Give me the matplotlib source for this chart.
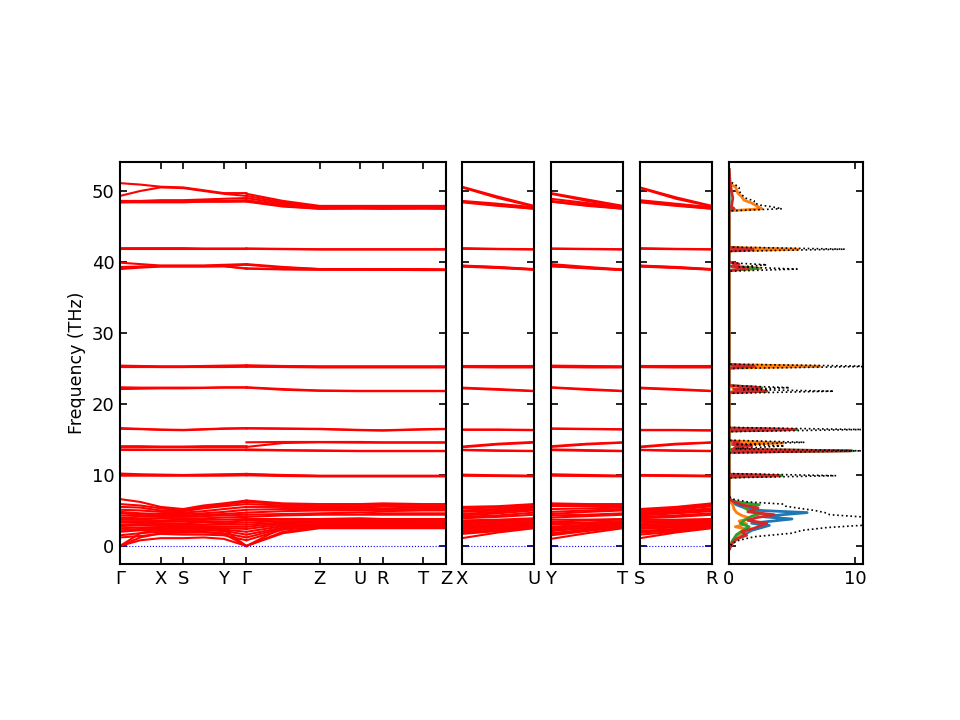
import numpy as np
import matplotlib
matplotlib.use('Agg')
import matplotlib.pyplot as plt

# reciprocal lattice lengths of the orthorhombic cell (a*, b*, c*)
len_a, len_b, len_c = 0.403, 0.225, 0.726

labels_main = ['Γ', 'X', 'S', 'Y', 'Γ', 'Z', 'U', 'R', 'T', 'Z']
labels_xu = ['X', 'U']
labels_yt = ['Y', 'T']
labels_sr = ['S', 'R']

# path A: Γ, mid(Γ-X), X, S, mid(S-Y), Y, Γ   (THz)
bands_a = [
    [0.0, 0.8, 1.1, 1.1, 1.2, 1.0, 0.0],
    [0.0, 1.2, 1.8, 1.9, 2.0, 1.7, 0.0],
    [0.0, 1.8, 2.4, 2.5, 2.6, 2.3, 0.0],
    [6.6, 6.2, 5.5, 5.2, 5.7, 6.0, 6.4],
    [5.9, 5.7, 5.3, 5.0, 5.5, 5.8, 6.2],
    [5.5, 5.4, 5.0, 4.9, 5.3, 5.6, 5.9],
    [5.1, 5.0, 4.8, 4.7, 4.9, 5.2, 5.5],
    [4.8, 4.6, 4.5, 4.5, 4.6, 4.8, 5.1],
    [4.6, 4.4, 4.3, 4.3, 4.4, 4.5, 4.7],
    [4.3, 4.2, 4.1, 4.1, 4.2, 4.3, 4.4],
    [4.0, 3.9, 3.9, 3.9, 3.9, 4.0, 4.1],
    [3.8, 3.7, 3.6, 3.7, 3.7, 3.7, 3.8],
    [3.5, 3.5, 3.4, 3.5, 3.5, 3.4, 3.6],
    [3.3, 3.3, 3.2, 3.2, 3.3, 3.2, 3.3],
    [3.0, 3.1, 3.0, 3.0, 3.0, 3.0, 3.0],
    [2.8, 2.9, 2.8, 2.8, 2.8, 2.7, 2.7],
    [2.5, 2.6, 2.6, 2.6, 2.6, 2.5, 2.4],
    [2.2, 2.4, 2.4, 2.4, 2.4, 2.3, 2.0],
    [2.0, 2.2, 2.2, 2.1, 2.2, 2.1, 1.6],
    [1.5, 1.8, 2.0, 1.9, 1.9, 1.8, 1.2],
    [1.2, 1.4, 1.7, 1.6, 1.6, 1.5, 0.8],
    [10.2, 10.1, 10.05, 10.0, 10.05, 10.1, 10.15],
    [10.0, 10.0, 9.95, 9.95, 9.95, 10.0, 10.05],
    [9.9, 9.9, 9.9, 9.9, 9.9, 9.9, 9.95],
    [14.05, 14.05, 14.0, 14.0, 14.05, 14.05, 14.05],
    [13.95, 13.95, 13.9, 13.9, 13.95, 13.95, 13.95],
    [13.6, 13.6, 13.55, 13.55, 13.6, 13.6, 13.6],
    [13.5, 13.5, 13.5, 13.5, 13.5, 13.5, 13.5],
    [16.6, 16.5, 16.4, 16.35, 16.45, 16.55, 16.6],
    [16.5, 16.45, 16.35, 16.3, 16.4, 16.5, 16.55],
    [22.35, 22.3, 22.3, 22.3, 22.3, 22.35, 22.35],
    [22.1, 22.15, 22.2, 22.2, 22.25, 22.3, 22.3],
    [25.4, 25.35, 25.3, 25.3, 25.35, 25.4, 25.45],
    [25.3, 25.3, 25.25, 25.25, 25.3, 25.3, 25.35],
    [25.25, 25.25, 25.2, 25.2, 25.25, 25.25, 25.3],
    [25.2, 25.2, 25.2, 25.2, 25.2, 25.2, 25.25],
    [39.9, 39.7, 39.5, 39.5, 39.5, 39.6, 39.7],
    [39.1, 39.3, 39.45, 39.45, 39.45, 39.5, 39.6],
    [39.3, 39.35, 39.4, 39.4, 39.4, 39.4, 39.1],
    [39.0, 39.2, 39.35, 39.35, 39.35, 39.4, 39.05],
    [41.95, 41.95, 41.95, 41.95, 41.9, 41.9, 41.9],
    [41.85, 41.85, 41.85, 41.85, 41.85, 41.85, 41.85],
    [51.1, 50.9, 50.6, 50.5, 50.1, 49.7, 49.7],
    [49.3, 50.0, 50.5, 50.4, 50.0, 49.6, 49.3],
    [48.6, 48.6, 48.7, 48.7, 48.8, 48.9, 49.0],
    [48.5, 48.5, 48.6, 48.6, 48.6, 48.6, 48.7],
    [48.4, 48.5, 48.5, 48.5, 48.5, 48.5, 48.6],
    [48.4, 48.4, 48.4, 48.4, 48.5, 48.5, 48.5],
]

# path B: Γ, mid(Γ-Z), Z, U, R, T, Z
bands_b = [
    [0.0, 1.8, 2.5, 2.5, 2.5, 2.5, 2.5],
    [0.0, 2.0, 2.6, 2.6, 2.6, 2.6, 2.6],
    [0.0, 2.6, 3.0, 3.1, 3.0, 3.1, 3.0],
    [6.4, 6.0, 5.9, 5.9, 6.0, 5.9, 5.9],
    [6.2, 5.9, 5.8, 5.8, 5.8, 5.8, 5.8],
    [5.9, 5.7, 5.6, 5.6, 5.6, 5.6, 5.6],
    [5.5, 5.5, 5.4, 5.4, 5.3, 5.4, 5.4],
    [5.1, 5.2, 5.2, 5.2, 5.1, 5.2, 5.2],
    [4.7, 4.9, 5.0, 5.0, 4.9, 5.0, 5.0],
    [4.4, 4.5, 4.6, 4.7, 4.6, 4.6, 4.6],
    [4.1, 4.3, 4.4, 4.4, 4.4, 4.4, 4.4],
    [3.8, 3.8, 3.8, 3.9, 3.8, 3.8, 3.8],
    [3.6, 3.7, 3.7, 3.7, 3.6, 3.7, 3.7],
    [3.3, 3.5, 3.5, 3.5, 3.5, 3.5, 3.5],
    [3.0, 3.3, 3.4, 3.4, 3.3, 3.4, 3.4],
    [2.7, 3.2, 3.3, 3.2, 3.2, 3.2, 3.3],
    [2.4, 3.0, 3.1, 3.1, 3.0, 3.1, 3.1],
    [2.0, 2.8, 3.0, 3.0, 2.9, 3.0, 3.0],
    [1.6, 2.6, 2.9, 2.9, 2.8, 2.9, 2.9],
    [1.2, 2.5, 2.8, 2.8, 2.7, 2.8, 2.8],
    [0.8, 2.3, 2.7, 2.7, 2.6, 2.7, 2.7],
    [10.15, 10.0, 9.9, 9.9, 9.9, 9.9, 9.9],
    [10.05, 9.95, 9.85, 9.85, 9.85, 9.85, 9.85],
    [9.95, 9.85, 9.8, 9.8, 9.8, 9.8, 9.8],
    [14.6, 14.65, 14.65, 14.65, 14.6, 14.6, 14.6],
    [13.95, 14.5, 14.6, 14.55, 14.55, 14.55, 14.55],
    [13.6, 13.5, 13.45, 13.4, 13.4, 13.4, 13.4],
    [13.5, 13.45, 13.4, 13.35, 13.35, 13.35, 13.35],
    [16.6, 16.55, 16.5, 16.35, 16.3, 16.45, 16.5],
    [16.55, 16.5, 16.45, 16.3, 16.25, 16.4, 16.45],
    [22.35, 22.1, 21.9, 21.85, 21.85, 21.85, 21.85],
    [22.3, 22.0, 21.85, 21.8, 21.8, 21.8, 21.8],
    [25.45, 25.35, 25.3, 25.3, 25.3, 25.3, 25.3],
    [25.35, 25.3, 25.25, 25.25, 25.25, 25.25, 25.25],
    [25.3, 25.25, 25.2, 25.2, 25.2, 25.2, 25.2],
    [25.25, 25.2, 25.15, 25.15, 25.15, 25.15, 25.15],
    [39.7, 39.3, 39.0, 39.0, 39.0, 39.0, 38.95],
    [39.6, 39.2, 39.0, 38.95, 38.95, 38.95, 38.9],
    [39.1, 39.0, 38.95, 38.95, 38.9, 38.9, 38.9],
    [39.05, 38.95, 38.9, 38.9, 38.9, 38.85, 38.85],
    [41.9, 41.85, 41.8, 41.8, 41.8, 41.8, 41.8],
    [41.85, 41.8, 41.75, 41.75, 41.75, 41.75, 41.75],
    [49.6, 48.6, 47.9, 47.9, 47.9, 47.9, 47.9],
    [49.3, 48.4, 47.8, 47.8, 47.8, 47.8, 47.8],
    [49.0, 48.2, 47.7, 47.7, 47.7, 47.7, 47.7],
    [48.7, 48.0, 47.6, 47.6, 47.6, 47.6, 47.6],
    [48.6, 47.9, 47.5, 47.6, 47.5, 47.6, 47.5],
    [48.5, 47.8, 47.5, 47.5, 47.5, 47.5, 47.5],
]

# side paths: start, middle, end
bands_xu = [
    [1.1, 1.9, 2.5], [1.8, 2.3, 2.6], [2.4, 2.8, 3.1],
    [5.5, 5.6, 5.9], [5.3, 5.4, 5.8], [5.0, 5.2, 5.6], [4.8, 5.0, 5.4],
    [4.5, 4.8, 5.2], [4.3, 4.6, 5.0], [4.1, 4.3, 4.7], [3.9, 4.1, 4.4],
    [3.6, 3.7, 3.9], [3.4, 3.6, 3.7], [3.2, 3.4, 3.5], [3.0, 3.2, 3.4],
    [2.8, 3.0, 3.2], [2.6, 2.9, 3.1], [2.4, 2.7, 3.0], [2.2, 2.5, 2.9],
    [2.0, 2.3, 2.8], [1.7, 2.1, 2.7],
    [10.05, 9.95, 9.9], [9.95, 9.9, 9.85], [9.9, 9.85, 9.8],
    [14.0, 14.4, 14.65], [13.9, 14.3, 14.55], [13.55, 13.45, 13.4], [13.5, 13.4, 13.35],
    [16.4, 16.4, 16.35], [16.35, 16.35, 16.3],
    [22.3, 22.1, 21.85], [22.2, 22.0, 21.8],
    [25.3, 25.3, 25.3], [25.25, 25.25, 25.25], [25.2, 25.2, 25.2], [25.2, 25.15, 25.15],
    [39.5, 39.3, 39.0], [39.45, 39.25, 38.95], [39.4, 39.2, 38.95], [39.35, 39.15, 38.9],
    [41.95, 41.85, 41.8], [41.85, 41.8, 41.75],
    [50.6, 49.2, 47.9], [50.5, 49.0, 47.8], [48.6, 48.2, 47.7],
    [48.5, 48.1, 47.6], [48.5, 48.0, 47.5], [48.4, 47.9, 47.5],
]

bands_yt = [
    [1.0, 1.8, 2.5], [1.7, 2.2, 2.6], [2.3, 2.7, 3.1],
    [6.0, 5.9, 5.9], [5.8, 5.8, 5.8], [5.6, 5.6, 5.6], [5.2, 5.3, 5.4],
    [4.8, 5.0, 5.2], [4.5, 4.8, 5.0], [4.3, 4.4, 4.6], [4.0, 4.2, 4.4],
    [3.7, 3.7, 3.8], [3.4, 3.6, 3.7], [3.2, 3.3, 3.5], [3.0, 3.2, 3.4],
    [2.7, 3.0, 3.2], [2.5, 2.8, 3.1], [2.3, 2.6, 3.0], [2.1, 2.5, 2.9],
    [1.8, 2.3, 2.8], [1.5, 2.1, 2.7],
    [10.1, 10.0, 9.9], [10.0, 9.9, 9.85], [9.9, 9.85, 9.8],
    [14.05, 14.4, 14.6], [13.95, 14.3, 14.55], [13.6, 13.5, 13.4], [13.5, 13.4, 13.35],
    [16.55, 16.5, 16.45], [16.5, 16.45, 16.4],
    [22.35, 22.1, 21.85], [22.3, 22.0, 21.8],
    [25.4, 25.35, 25.3], [25.3, 25.25, 25.25], [25.25, 25.2, 25.2], [25.2, 25.15, 25.15],
    [39.7, 39.3, 38.95], [39.6, 39.2, 38.9], [39.4, 39.15, 38.9], [39.4, 39.1, 38.85],
    [41.9, 41.85, 41.8], [41.85, 41.8, 41.75],
    [49.7, 48.8, 47.9], [49.6, 48.6, 47.8], [48.9, 48.3, 47.7],
    [48.6, 48.1, 47.6], [48.5, 48.0, 47.5], [48.5, 47.9, 47.5],
]

bands_sr = [
    [1.1, 1.9, 2.5], [1.9, 2.3, 2.6], [2.5, 2.8, 3.0],
    [5.2, 5.5, 6.0], [5.0, 5.3, 5.8], [4.9, 5.1, 5.6], [4.7, 4.9, 5.3],
    [4.5, 4.7, 5.1], [4.3, 4.6, 4.9], [4.1, 4.3, 4.6], [3.9, 4.1, 4.4],
    [3.7, 3.7, 3.8], [3.5, 3.5, 3.6], [3.2, 3.4, 3.5], [3.0, 3.2, 3.3],
    [2.8, 3.0, 3.2], [2.6, 2.8, 3.0], [2.4, 2.6, 2.9], [2.1, 2.4, 2.8],
    [1.9, 2.2, 2.7], [1.6, 2.0, 2.6],
    [10.0, 9.95, 9.9], [9.95, 9.9, 9.85], [9.9, 9.85, 9.8],
    [14.0, 14.4, 14.6], [13.9, 14.3, 14.55], [13.55, 13.45, 13.4], [13.5, 13.4, 13.35],
    [16.35, 16.35, 16.3], [16.3, 16.3, 16.25],
    [22.3, 22.1, 21.85], [22.2, 22.0, 21.8],
    [25.3, 25.3, 25.3], [25.25, 25.25, 25.25], [25.2, 25.2, 25.2], [25.2, 25.15, 25.15],
    [39.5, 39.3, 39.0], [39.45, 39.25, 38.95], [39.4, 39.2, 38.95], [39.35, 39.15, 38.9],
    [41.95, 41.85, 41.8], [41.85, 41.8, 41.75],
    [50.5, 49.1, 47.9], [50.4, 48.9, 47.8], [48.7, 48.2, 47.7],
    [48.6, 48.1, 47.6], [48.5, 48.0, 47.5], [48.4, 47.9, 47.5],
]

# total DOS (dotted black) and projected DOS (four species)
tot_f = [-0.5, 0.3, 0.8, 1.3, 1.8, 2.2, 2.6, 2.9, 3.2, 3.5, 3.8, 4.1, 4.4, 4.7, 5.0, 5.3, 5.6, 5.9, 6.2, 6.6, 7.0,
         9.6, 9.9, 10.2,
         13.1, 13.4, 13.7, 14.1, 14.3, 14.6, 14.9,
         16.1, 16.4, 16.7,
         21.5, 21.8, 22.05, 22.3, 22.6,
         25.0, 25.3, 25.6,
         38.7, 39.0, 39.3, 39.6, 39.9,
         41.5, 41.8, 42.1,
         47.2, 47.5, 47.8, 48.0, 48.3, 48.6, 49.0, 49.5, 50.0, 50.5, 51.0, 51.4, 53.0]
tot_v = [0, 0.2, 0.8, 2.0, 5.0, 5.8, 7.8, 10.5, 12.0, 11.5, 12.0, 10.5, 8.0, 7.6, 6.8, 5.6, 4.5, 4.3, 1.5, 0.3, 0,
         0, 8.5, 0,
         0, 10.5, 0.5, 4.4, 0.5, 6.0, 0,
         0, 10.5, 0,
         0, 8.3, 1.0, 4.8, 0,
         0, 12.0, 0,
         0, 5.4, 0.8, 3.0, 0,
         0, 9.2, 0,
         0, 4.2, 3.3, 2.5, 2.0, 2.0, 1.3, 1.0, 0.8, 0.8, 0.4, 0, 0]

p0_f = [-0.5, 0.3, 0.8, 1.3, 1.8, 2.2, 2.6, 2.9, 3.2, 3.5, 3.8, 4.1, 4.4, 4.7, 5.0, 5.4, 5.8, 6.2, 6.6, 53.0]
p0_v = [0, 0.2, 0.5, 0.9, 1.4, 1.8, 2.6, 3.2, 1.8, 3.4, 5.0, 2.8, 4.2, 6.2, 2.5, 1.2, 0.6, 0.2, 0, 0]

p1_f = [-0.5, 0.5, 1.2, 1.8, 2.3, 2.7, 3.1, 3.5, 3.9, 4.3, 4.7, 5.2, 5.8, 6.5,
        9.7, 9.9, 10.1, 13.2, 13.4, 13.6, 14.3, 14.5, 14.8, 16.2, 16.4, 16.6,
        21.6, 21.8, 22.3, 22.6, 25.05, 25.3, 25.55,
        38.8, 39.1, 39.4, 39.7, 40.0, 41.55, 41.8, 42.05,
        47.2, 47.5, 47.9, 48.3, 48.7, 49.2, 49.7, 50.2, 50.6, 51.0, 53.0]
p1_v = [0, 0.2, 0.5, 1.0, 1.6, 0.5, 1.4, 0.8, 1.7, 1.0, 0.6, 0.4, 0.3, 0,
        0, 0.4, 0, 0, 0.5, 0, 0, 4.3, 0, 0, 0.4, 0,
        0, 0.4, 0.3, 0, 0, 7.2, 0,
        0, 2.5, 0.3, 0.6, 0, 0, 5.5, 0,
        0, 2.6, 2.2, 1.8, 1.2, 1.0, 0.7, 0.6, 0.5, 0, 0]

p2_f = [-0.5, 0.8, 1.6, 2.3, 2.7, 3.2, 3.7, 4.2, 4.6, 5.0, 5.4, 5.8, 6.2, 6.6,
        9.7, 9.9, 10.1, 13.2, 13.4, 13.6, 16.2, 16.4, 16.6,
        21.6, 21.8, 22.0, 22.3, 22.6, 25.05, 25.3, 25.55,
        38.8, 39.1, 39.4, 41.55, 41.8, 42.05, 47.2, 47.5, 47.8, 53.0]
p2_v = [0, 0.3, 0.6, 1.2, 1.6, 0.9, 1.3, 1.8, 2.6, 1.6, 1.2, 2.4, 0.6, 0,
        0, 4.2, 0, 0, 9.8, 0, 0, 5.4, 0,
        0, 3.0, 0.5, 2.6, 0, 0, 2.0, 0,
        0, 2.3, 0, 0, 1.8, 0, 0, 0.4, 0, 0]

p3_f = [-0.5, 0.5, 1.0, 1.5, 2.0, 2.5, 2.8, 3.2, 3.6, 4.0, 4.4, 4.8, 5.35, 5.8, 6.3, 6.7,
        9.7, 9.9, 10.1, 13.2, 13.4, 13.6, 13.9, 14.1, 14.3, 14.6, 14.8,
        16.2, 16.4, 16.6, 21.6, 21.8, 22.05, 22.3, 22.6, 25.05, 25.3, 25.55,
        38.8, 39.1, 39.4, 39.7, 40.0, 41.55, 41.8, 42.05,
        47.2, 47.5, 47.8, 49.0, 50.0, 51.0, 53.0]
p3_v = [0, 0.3, 0.6, 1.4, 1.0, 2.0, 2.4, 3.0, 1.5, 2.2, 3.6, 1.5, 2.3, 1.0, 0.3, 0,
        0, 4.0, 0, 0, 9.6, 0.3, 0.5, 1.8, 0.3, 0.8, 0,
        0, 5.2, 0, 0, 3.0, 0.4, 2.5, 0, 0, 2.0, 0,
        0, 1.5, 0.2, 0.8, 0, 0, 1.9, 0,
        0, 0.4, 0.2, 0.3, 0.2, 0.1, 0]

# x positions along the path
a, b, c = len_a, len_b, len_c
x_a = [0, a / 2, a, a + b, a + b + a / 2, 2 * a + b, 2 * a + 2 * b]
g2 = 2 * a + 2 * b
x_b = [g2, g2 + c / 2, g2 + c, g2 + c + a, g2 + c + a + b, g2 + c + 2 * a + b, g2 + c + 2 * a + 2 * b]
ticks_main = [x_a[0], x_a[2], x_a[3], x_a[5], x_a[6], x_b[2], x_b[3], x_b[4], x_b[5], x_b[6]]
x_side = [0, c / 2, c]

fig = plt.figure(figsize=(9.6, 7.2), dpi=100)


def px_axes(x0, x1, y0=162, y1=564):
    return fig.add_axes([x0 / 960, 1 - y1 / 720, (x1 - x0) / 960, (y1 - y0) / 720])


ax1 = px_axes(120, 446)
ax2 = px_axes(462, 534)
ax3 = px_axes(551, 623)
ax4 = px_axes(640, 712)
ax5 = px_axes(729, 863)

ylo, yhi = -2.54, 54.08

for ax in [ax1, ax2, ax3, ax4, ax5]:
    ax.tick_params(direction='in', length=5, width=1.2, top=True, right=True,
                   labelsize=13, pad=4)
    for s in ax.spines.values():
        s.set_linewidth(1.5)
    ax.set_ylim(ylo, yhi)
    ax.set_yticks(range(0, 51, 10))

# main path
for row in bands_a:
    ax1.plot(x_a, row, color='r', lw=1.5)
for row in bands_b:
    ax1.plot(x_b, row, color='r', lw=1.5)
ax1.set_xlim(0, x_b[-1])
ax1.set_xticks(ticks_main)
ax1.set_xticklabels(labels_main)
ax1.set_ylabel('Frequency (THz)', fontsize=12.5)
ax1.axhline(0, ls=':', lw=0.8, color='b')

for ax, data, lab in [(ax2, bands_xu, labels_xu), (ax3, bands_yt, labels_yt), (ax4, bands_sr, labels_sr)]:
    for row in data:
        ax.plot(x_side, row, color='r', lw=1.5)
    ax.set_xlim(0, c)
    ax.set_xticks([0, c])
    ax.set_xticklabels(lab)
    ax.tick_params(labelleft=False)
    ax.axhline(0, ls=':', lw=0.8, color='b')

# DOS panel
ax5.plot(p0_v, p0_f, color='C0', lw=2)
ax5.plot(p1_v, p1_f, color='C1', lw=2)
ax5.plot(p2_v, p2_f, color='C2', lw=2)
ax5.plot(p3_v, p3_f, color='C3', lw=2)
ax5.plot(tot_v, tot_f, color='k', ls=':', lw=1.2)
ax5.set_xlim(0, 10.63)
ax5.set_xticks([0, 10])
ax5.tick_params(labelleft=False)

fig.savefig('out.png', dpi=100)
